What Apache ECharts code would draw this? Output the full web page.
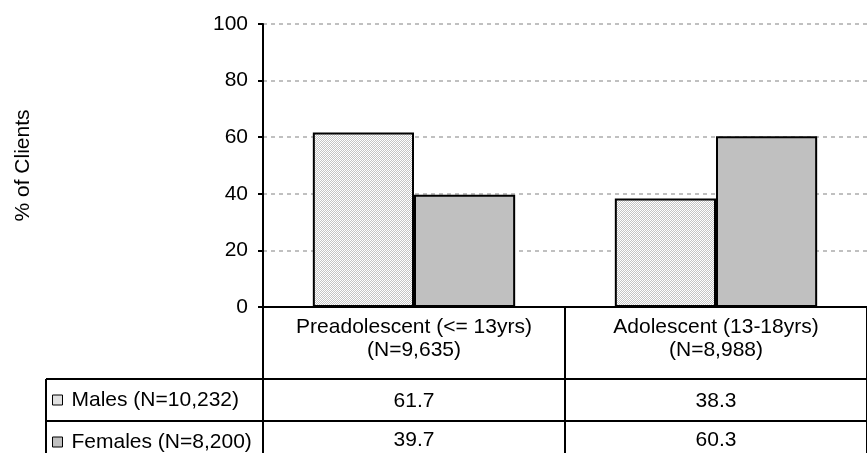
<!DOCTYPE html>
<html>
<head>
<meta charset="utf-8">
<script src="https://cdn.jsdelivr.net/npm/echarts@6/dist/echarts.min.js"></script>
<style>
  html, body { margin: 0; padding: 0; background: #fff; }
  #chart { width: 867px; height: 453px; }
</style>
</head>
<body>
<div id="chart"></div>
<script>
// Age groups with their client counts
const categories = ['Preadolescent (<= 13yrs)\n(N=9,635)', 'Adolescent (13-18yrs)\n(N=8,988)'];
const seriesNames = ['Males (N=10,232)', 'Females (N=8,200)'];
const males = [61.7, 38.3];
const females = [39.7, 60.3];
const yTicks = [0, 20, 40, 60, 80, 100];

const FONT = '"Liberation Sans", Arial, sans-serif';
const FS = 21;

// Fine 1px checker fill used for the male bars
function checkerPattern() {
  const c = document.createElement('canvas');
  c.width = 2; c.height = 2;
  const ctx = c.getContext('2d');
  ctx.fillStyle = '#ffffff';
  ctx.fillRect(0, 0, 2, 2);
  ctx.fillStyle = '#c4c4c4';
  ctx.fillRect(1, 0, 1, 1);
  ctx.fillRect(0, 1, 1, 1);
  return { image: c, repeat: 'repeat' };
}
const maleFill = checkerPattern();
const femaleFill = '#c0c0c0';

const chart = echarts.init(document.getElementById('chart'), null, { renderer: 'canvas' });

const gridLeft = 263, gridTop = 24, gridBottom = 146;
const axisY = 307, rowTop1 = 379, rowTop2 = 421, tableLeft = 46;

const valueAxisLabel = { color: '#000', fontFamily: FONT, fontSize: FS, lineHeight: 24, interval: 0 };

// One legend per table row, so each key sits in its own row header
function rowLegend(name, fill, top) {
  return {
    orient: 'horizontal',
    left: 52,
    top: top,
    padding: 0,
    itemWidth: 10,
    itemHeight: 10,
    icon: 'rect',
    selectedMode: false,
    textStyle: { color: '#000', fontFamily: FONT, fontSize: FS, lineHeight: 24, padding: [0, 0, 0, 4] },
    data: [{ name: name, itemStyle: { color: fill, borderColor: '#000', borderWidth: 1 } }]
  };
}

chart.setOption({
  animation: false,
  backgroundColor: '#fff',
  textStyle: { fontFamily: FONT },
  grid: { left: gridLeft, right: -6, top: gridTop, bottom: gridBottom, containLabel: false },
  legend: [
    rowLegend(seriesNames[0], maleFill, 388),
    rowLegend(seriesNames[1], femaleFill, 430)
  ],
  xAxis: [
    {
      type: 'category',
      data: categories,
      position: 'bottom',
      axisLine: { show: true, lineStyle: { color: '#000', width: 2 } },
      axisTick: { show: true, length: rowTop1 - axisY, lineStyle: { color: '#000', width: 2 } },
      axisLabel: { color: '#000', fontFamily: FONT, fontSize: FS, lineHeight: 23, margin: 9, interval: 0 },
      splitLine: { show: false }
    },
    {
      type: 'category',
      data: males.map(v => v.toFixed(1)),
      position: 'bottom',
      offset: rowTop1 - axisY,
      axisLine: { show: true, lineStyle: { color: '#000', width: 2 } },
      axisTick: { show: true, length: rowTop2 - rowTop1, lineStyle: { color: '#000', width: 2 } },
      axisLabel: Object.assign({ margin: 10 }, valueAxisLabel),
      splitLine: { show: false }
    },
    {
      type: 'category',
      data: females.map(v => v.toFixed(1)),
      position: 'bottom',
      offset: rowTop2 - axisY,
      axisLine: { show: true, lineStyle: { color: '#000', width: 2 } },
      axisTick: { show: true, length: 50, lineStyle: { color: '#000', width: 2 } },
      axisLabel: Object.assign({ margin: 7 }, valueAxisLabel),
      splitLine: { show: false }
    }
  ],
  yAxis: {
    type: 'value',
    min: yTicks[0],
    max: yTicks[yTicks.length - 1],
    interval: yTicks[1] - yTicks[0],
    name: '% of Clients',
    nameLocation: 'middle',
    nameGap: 229,
    nameRotate: 90,
    nameTextStyle: { color: '#000', fontFamily: FONT, fontSize: FS },
    axisLine: { show: true, lineStyle: { color: '#000', width: 2 } },
    axisTick: { show: true, inside: false, length: 5, lineStyle: { color: '#000', width: 2 } },
    axisLabel: { color: '#000', fontFamily: FONT, fontSize: FS, margin: 15 },
    splitLine: { show: true, lineStyle: { color: '#c0c0c0', width: 2, type: [4, 4] } }
  },
  series: [
    {
      name: seriesNames[0],
      type: 'bar',
      xAxisIndex: 0,
      data: males,
      barGap: '0%',
      barCategoryGap: '33%',
      itemStyle: { color: maleFill, borderColor: '#000', borderWidth: 2 }
    },
    {
      name: seriesNames[1],
      type: 'bar',
      xAxisIndex: 0,
      data: females,
      barGap: '0%',
      barCategoryGap: '33%',
      itemStyle: { color: femaleFill, borderColor: '#000', borderWidth: 2 }
    }
  ],
  // Frame of the row-header column of the data table
  graphic: [
    { type: 'line', shape: { x1: tableLeft, y1: rowTop1, x2: gridLeft, y2: rowTop1 }, style: { stroke: '#000', lineWidth: 2 } },
    { type: 'line', shape: { x1: tableLeft, y1: rowTop2, x2: gridLeft, y2: rowTop2 }, style: { stroke: '#000', lineWidth: 2 } },
    { type: 'line', shape: { x1: tableLeft, y1: rowTop1, x2: tableLeft, y2: 460 }, style: { stroke: '#000', lineWidth: 2 } }
  ]
});
</script>
</body>
</html>
